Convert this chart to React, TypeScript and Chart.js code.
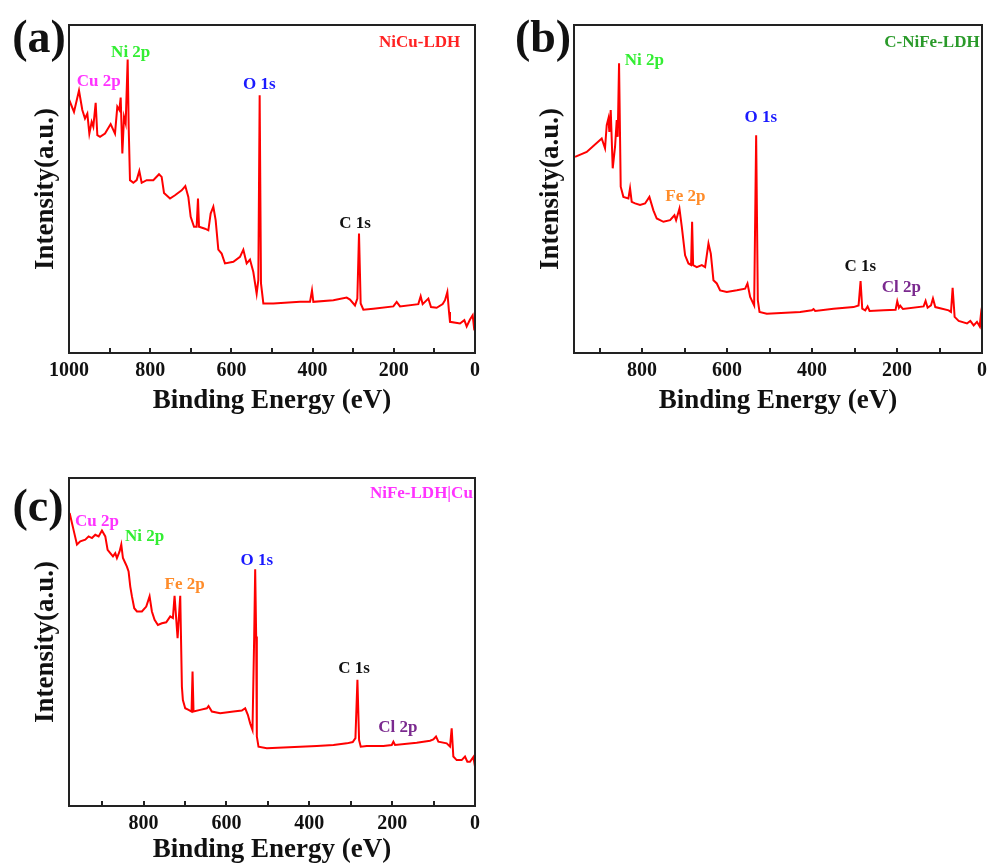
import React, { useEffect, useRef } from "react";
import { Chart, registerables } from "chart.js";

Chart.register(...registerables);

// ---------- Panel (a) NiCu-LDH ----------
const energyA = [1000, 987.7, 975.4, 967.2, 960.6, 954.8, 949.9, 944.2, 940.1, 934.3, 930.2, 923.6, 911.3, 897.4, 886.7, 881.0, 876.0, 872.7, 868.6, 864.5, 860.4, 855.5, 853.0, 849.8, 841.5, 833.3, 826.8, 821.0, 808.7, 792.3, 778.3, 771.8, 766.0, 751.2, 738.9, 722.5, 713.5, 706.1, 700.3, 692.1, 685.6, 682.3, 679.8, 665.0, 656.8, 651.1, 644.5, 638.8, 632.2, 624.0, 615.8, 595.2, 578.8, 570.6, 562.4, 554.2, 546.0, 537.8, 533.7, 530.4, 527.1, 521.3, 496.7, 431.0, 406.4, 401.5, 398.2, 348.9, 316.1, 307.9, 295.6, 289.8, 285.7, 281.6, 275.0, 250.4, 201.1, 192.9, 184.7, 139.6, 133.8, 128.9, 114.9, 108.4, 94.4, 79.6, 73.9, 68.1, 64.0, 61.6, 36.9, 26.3, 20.5, 12.3, 5.7, 1.6];
const intensityA = [77.3, 73.5, 80.0, 74.1, 71.5, 73.0, 66.9, 70.5, 69.0, 76.3, 66.4, 65.9, 66.9, 69.8, 66.9, 75.1, 74.1, 77.9, 60.8, 72.0, 70.0, 89.5, 69.0, 52.7, 51.9, 52.7, 55.5, 51.9, 52.7, 52.7, 54.5, 53.7, 48.8, 47.1, 48.1, 49.6, 50.9, 47.6, 41.5, 38.5, 38.5, 47.1, 38.5, 37.9, 37.4, 42.5, 44.6, 40.5, 31.5, 30.3, 27.3, 27.8, 29.3, 31.5, 27.3, 28.5, 24.7, 18.1, 22.2, 78.6, 21.2, 15.1, 15.1, 15.6, 15.6, 19.1, 15.6, 16.1, 16.9, 16.3, 14.5, 16.6, 36.4, 15.1, 13.2, 13.5, 14.2, 15.6, 14.2, 14.9, 17.3, 14.9, 16.6, 14.0, 13.8, 14.9, 16.1, 18.6, 12.5, 9.5, 9.0, 10.0, 8.1, 10.2, 11.5, 6.9];
const labelsA = ["Cu 2p", "Ni 2p", "O 1s", "C 1s", "NiCu-LDH"];
const labelEvA = [927, 848, 531, 295.6, 136.3];
const labelIntA = [82.7, 91.6, 81.9, 39.5, 94.7];
const labelColA = ["#ff33ff", "#33ee33", "#1a1aff", "#111111", "#ff2222"];

// ---------- Panel (b) C-NiFe-LDH ----------
const energyB = [957.6, 930.1, 894.8, 887.0, 883.0, 879.1, 876.8, 873.6, 868.9, 863.4, 859.5, 857.1, 854.0, 850.1, 843.8, 832.0, 828.1, 824.2, 816.3, 804.6, 792.8, 782.6, 773.2, 765.3, 749.6, 733.9, 723.7, 719.8, 711.9, 706.4, 698.6, 690.7, 684.5, 682.1, 679.7, 671.1, 659.3, 651.5, 643.6, 638.1, 631.9, 624.0, 616.2, 600.5, 576.9, 557.3, 551.8, 545.5, 536.1, 531.4, 527.5, 523.5, 506.3, 427.8, 400.3, 396.4, 392.5, 349.3, 302.2, 290.4, 285.7, 281.8, 274.7, 269.2, 264.5, 231.5, 203.3, 199.4, 195.4, 192.3, 186.0, 137.4, 132.7, 127.9, 120.1, 115.4, 109.9, 78.5, 73.0, 69.1, 64.4, 54.9, 35.3, 27.5, 19.6, 11.8, 5.5, 3.1, 0];
const intensityB = [59.8, 61.3, 65.4, 62.4, 69.5, 71.5, 67.4, 74.1, 56.3, 62.9, 71.0, 65.9, 88.3, 50.7, 47.6, 47.1, 50.2, 46.1, 45.6, 45.1, 45.6, 47.6, 43.5, 41.0, 40.0, 40.5, 42.0, 40.5, 44.0, 38.5, 29.8, 27.3, 26.8, 40.0, 26.8, 26.2, 26.8, 26.2, 33.4, 30.3, 22.2, 21.2, 19.1, 18.6, 19.1, 19.6, 21.2, 17.1, 14.5, 66.4, 16.1, 12.5, 12.0, 12.5, 13.0, 13.4, 12.8, 13.5, 14.0, 14.5, 21.9, 13.5, 13.0, 14.2, 12.8, 13.0, 13.2, 15.8, 13.8, 14.4, 13.4, 14.2, 15.9, 13.8, 14.5, 16.6, 14.0, 13.0, 12.5, 19.9, 11.0, 9.8, 9.0, 9.8, 8.4, 9.5, 8.1, 11.0, 6.9];
const labelsB = ["Ni 2p", "Fe 2p", "O 1s", "C 1s", "Cl 2p", "C-NiFe-LDH"];
const labelEvB = [794.3, 697.8, 520.4, 286.5, 190, 117.7];
const labelIntB = [89.1, 47.6, 71.7, 26.2, 19.9, 94.7];
const labelColB = ["#33ee33", "#ff8c2a", "#1a1aff", "#111111", "#7b2a8f", "#2a9a2a"];

// ---------- Panel (c) NiFe-LDH|Cu ----------
const energyC = [978.5, 967.2, 960.8, 952.7, 940.7, 932.6, 924.6, 916.6, 908.5, 900.5, 892.4, 886.8, 880.4, 873.9, 868.3, 864.3, 857.9, 853.8, 849.8, 844.2, 840.2, 836.2, 832.1, 828.1, 822.5, 816.0, 804.0, 793.5, 785.5, 779.9, 773.4, 765.4, 755.8, 745.3, 735.6, 729.2, 725.2, 717.9, 711.5, 707.5, 705.1, 699.5, 691.4, 684.2, 681.8, 679.4, 663.3, 647.2, 643.2, 635.2, 615.1, 582.9, 562.8, 554.7, 548.3, 542.7, 537.1, 533.0, 530.6, 528.2, 526.6, 522.6, 502.5, 422.1, 381.9, 341.7, 309.5, 295.1, 288.6, 283.8, 279.8, 275.8, 261.3, 221.1, 201.0, 197.0, 193.0, 140.7, 108.5, 100.5, 94.1, 88.4, 68.3, 60.3, 56.3, 52.3, 44.2, 32.2, 24.1, 18.5, 12.1, 8.0, 4.0, 0];
const intensityC = [89.3, 83.2, 79.7, 80.7, 81.2, 82.2, 81.7, 82.7, 82.2, 84.0, 82.2, 78.1, 77.1, 76.1, 77.1, 75.6, 77.6, 79.7, 75.6, 74.1, 73.0, 71.5, 66.9, 63.9, 60.3, 59.3, 59.3, 60.8, 63.9, 59.3, 56.8, 55.2, 55.7, 56.0, 57.8, 57.3, 64.1, 51.2, 64.1, 36.4, 32.3, 29.8, 29.3, 28.8, 41.0, 28.8, 29.3, 29.8, 30.5, 28.8, 28.3, 28.8, 29.1, 29.8, 27.8, 25.2, 23.2, 51.7, 72.2, 51.7, 21.2, 18.1, 17.6, 18.1, 18.3, 18.6, 19.1, 19.5, 20.7, 38.5, 20.1, 18.1, 18.3, 18.3, 18.6, 19.6, 18.6, 19.3, 19.9, 20.3, 21.2, 19.6, 19.1, 18.1, 23.7, 15.1, 14.0, 14.0, 15.1, 13.5, 13.5, 14.2, 14.9, 12.0];
const labelsC = ["Cu 2p", "Ni 2p", "Fe 2p", "O 1s", "C 1s", "Cl 2p", "NiFe-LDH|Cu"];
const labelEvC = [912.5, 797.6, 701, 526.6, 291.8, 186.5, 129.4];
const labelIntC = [86.6, 82.2, 67.4, 74.8, 42.0, 23.9, 95.2];
const labelColC = ["#ff33ff", "#33ee33", "#ff8c2a", "#1a1aff", "#111111", "#7b2a8f", "#ff33ff"];

const xTitle = "Binding Energy (eV)";
const yTitle = "Intensity(a.u.)";
const FONT = "'Liberation Serif', 'Times New Roman', serif";

type PanelProps = {
  left: number; top: number; width: number; height: number;
  padTop: number; padRight: number; yAxisW: number; xAxisH: number;
  yTitlePad: number; xTitlePad: number;
  xMax: number; energy: number[]; intensity: number[];
  labels: string[]; labelEv: number[]; labelInt: number[]; labelCol: string[];
  letter: string; letterDx: number; letterDy: number;
};

function Panel(p: PanelProps) {
  const ref = useRef<HTMLCanvasElement>(null);
  useEffect(() => {
    if (!ref.current) return;
    const points = p.energy.map((e, i) => ({ x: e, y: p.intensity[i] }));
    const overlay = {
      id: "overlay",
      afterDraw(chart: any) {
        const ctx = chart.ctx;
        const a = chart.chartArea;
        const xs = chart.scales.x;
        const ys = chart.scales.y;
        ctx.save();
        ctx.strokeStyle = "#222";
        ctx.lineWidth = 2;
        ctx.strokeRect(a.left, a.top, a.right - a.left, a.bottom - a.top);
        ctx.textAlign = "center";
        ctx.textBaseline = "middle";
        ctx.font = `bold 17px ${FONT}`;
        p.labels.forEach((t, i) => {
          ctx.fillStyle = p.labelCol[i];
          ctx.fillText(t, xs.getPixelForValue(p.labelEv[i]), ys.getPixelForValue(p.labelInt[i]));
        });
        ctx.fillStyle = "#111";
        ctx.font = `bold 46px ${FONT}`;
        ctx.fillText(p.letter, a.left + p.letterDx, a.top + p.letterDy);
        ctx.restore();
      },
    };
    const chart = new Chart(ref.current, {
      type: "line",
      data: {
        datasets: [{
          data: points,
          borderColor: "#ff0000",
          borderWidth: 2,
          pointRadius: 0,
          tension: 0,
          fill: false,
        }],
      },
      options: {
        responsive: false,
        animation: false,
        devicePixelRatio: 1,
        layout: { padding: { top: p.padTop, right: p.padRight, left: 0, bottom: 0 } },
        plugins: { legend: { display: false }, tooltip: { enabled: false } },
        scales: {
          x: {
            type: "linear",
            min: 0,
            max: p.xMax,
            reverse: true,
            afterFit: (s: any) => {
              s.height = p.xAxisH;
              s.paddingLeft = 0;
              s.paddingRight = 0;
            },
            border: { display: false },
            grid: { drawOnChartArea: false, drawTicks: true, tickLength: -5, color: "#222", lineWidth: 2 },
            ticks: {
              stepSize: 100,
              includeBounds: false,
              autoSkip: false,
              maxRotation: 0,
              padding: 11,
              color: "#111",
              font: { family: FONT, size: 20, weight: "bold" },
              callback: (v: any) => (Number(v) % 200 === 0 ? String(v) : ""),
            },
            title: {
              display: true,
              text: xTitle,
              color: "#111",
              font: { family: FONT, size: 27, weight: "bold" },
              padding: { top: 0, bottom: p.xTitlePad },
            },
          },
          y: {
            min: 0,
            max: 100,
            afterFit: (s: any) => { s.width = p.yAxisW; },
            border: { display: false },
            grid: { display: false },
            ticks: { display: false },
            title: {
              display: true,
              text: yTitle,
              color: "#111",
              font: { family: FONT, size: 27, weight: "bold" },
              padding: { top: p.yTitlePad, bottom: 0 },
            },
          },
        },
      },
      plugins: [overlay],
    } as any);
    return () => chart.destroy();
  }, []);
  return (
    <canvas
      ref={ref}
      width={p.width}
      height={p.height}
      style={{ position: "absolute", left: p.left, top: p.top, width: p.width, height: p.height }}
    />
  );
}

export default function App() {
  return (
    <div style={{ position: "absolute", left: 0, top: 0, width: 989, height: 866, background: "#fff", overflow: "hidden" }}>
      <Panel left={0} top={0} width={490} height={420} padTop={25} padRight={15} yAxisW={69} xAxisH={67}
        yTitlePad={30} xTitlePad={3} xMax={1000} energy={energyA} intensity={intensityA}
        labels={labelsA} labelEv={labelEvA} labelInt={labelIntA} labelCol={labelColA}
        letter="(a)" letterDx={-30} letterDy={15} />
      <Panel left={495} top={0} width={494} height={420} padTop={25} padRight={7} yAxisW={79} xAxisH={67}
        yTitlePad={40} xTitlePad={3} xMax={960} energy={energyB} intensity={intensityB}
        labels={labelsB} labelEv={labelEvB} labelInt={labelIntB} labelCol={labelColB}
        letter="(b)" letterDx={-31} letterDy={15} />
      <Panel left={0} top={450} width={490} height={416} padTop={28} padRight={15} yAxisW={69} xAxisH={60}
        yTitlePad={30} xTitlePad={0} xMax={980} energy={energyC} intensity={intensityC}
        labels={labelsC} labelEv={labelEvC} labelInt={labelIntC} labelCol={labelColC}
        letter="(c)" letterDx={-31} letterDy={31} />
    </div>
  );
}
